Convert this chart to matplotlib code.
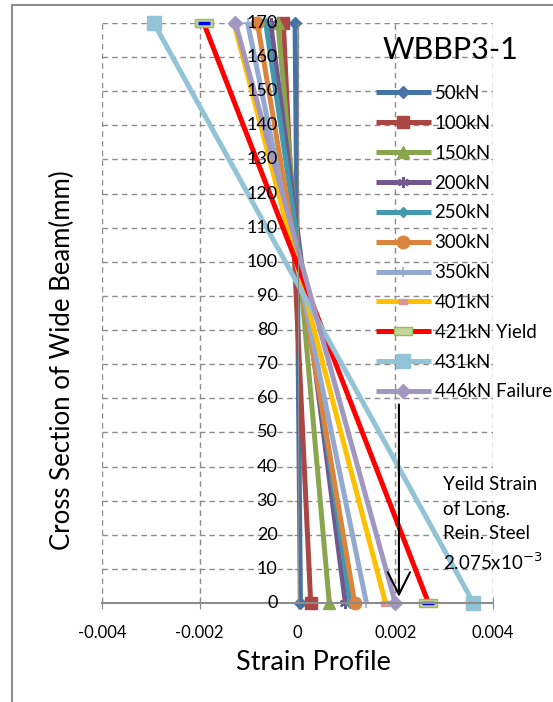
import numpy as np
import matplotlib
matplotlib.use('Agg')
import matplotlib.pyplot as plt
import matplotlib.transforms as mtransforms
from matplotlib.path import Path
from matplotlib.patches import Rectangle

plt.rcParams['font.family'] = ['Lato', 'DejaVu Sans']

# data
loads = ['50kN', '100kN', '150kN', '200kN', '250kN', '300kN',
         '350kN', '401kN', '421kN Yield', '431kN', '446kN Failure']
depth = [0, 170]
strain_bottom = [0.00006, 0.00027, 0.00065, 0.00098, 0.00108, 0.00117,
                 0.00141, 0.0018, 0.00268, 0.0036, 0.0020]
strain_top = [-0.00005, -0.00029, -0.0004, -0.00055, -0.00065, -0.00082,
              -0.00102, -0.0013, -0.00192, -0.00294, -0.00127]
yield_strain = 0.002075
xticks = [-0.004, -0.002, 0, 0.002, 0.004]
xtick_labels = ['-0.004', '-0.002', '0', '0.002', '0.004']
yticks = list(range(0, 171, 10))

colors = ['#4572A7', '#AA4643', '#89A54E', '#71588F', '#4198AF', '#DB843D',
          '#93A9CF', '#FFC000', '#FF0000', '#92C3D6', '#A297C1']

rect = Path([(-1, -0.45), (1, -0.45), (1, 0.45), (-1, 0.45), (-1, -0.45)],
            [Path.MOVETO, Path.LINETO, Path.LINETO, Path.LINETO, Path.CLOSEPOLY])
small_rect = Path([(-1, -0.6), (1, -0.6), (1, 0.6), (-1, 0.6), (-1, -0.6)],
                  [Path.MOVETO, Path.LINETO, Path.LINETO, Path.LINETO, Path.CLOSEPOLY])

styles = [
  dict(marker='D', ms=6),
  dict(marker='s', ms=8),
  dict(marker='^', ms=8),
  dict(marker=(6, 2, 0), ms=8, mew=1.5),
  dict(marker='D', ms=5),
  dict(marker='o', ms=9),
  dict(marker='+', ms=7, mew=1.2),
  dict(marker=small_rect, ms=6, mfc='#D99694', mec='#D99694'),
  dict(marker=rect, ms=13, mfc='#C3D69B', mec='#9BBB59', mew=1),
  dict(marker='s', ms=10),
  dict(marker='D', ms=7),
]

fig = plt.figure(figsize=(5.53, 7.02), dpi=100)
ax = fig.add_axes([102/553, 1-603/702, (493-102)/553, (603-23)/702])

for i in range(len(loads)):
  st = dict(styles[i])
  st.setdefault('mfc', colors[i])
  st.setdefault('mec', colors[i])
  ax.plot([strain_bottom[i], strain_top[i]], depth, color=colors[i], lw=3.6,
          label=loads[i], solid_capstyle='butt', clip_on=False, **st)
  if i == 8:
    ax.plot([strain_bottom[i], strain_top[i]], depth, ls='none', marker='_',
            ms=9, mew=2.5, color='#0000FF', clip_on=False)

ax.set_xlim(-0.004, 0.004)
ax.set_ylim(0, 170)
ax.set_xticks(xticks)
ax.set_xticklabels(xtick_labels)
ax.set_yticks(yticks)
ax.set_yticklabels([])
ax.grid(True, ls=(0, (4, 3)), color='#8C8C8C', lw=1)
ax.set_axisbelow(True)

for s in ['top', 'right']:
  ax.spines[s].set_visible(False)
ax.spines['left'].set_position(('data', 0))
ax.spines['left'].set_color('#8C8C8C')
ax.spines['bottom'].set_color('#8C8C8C')
ax.spines['bottom'].set_linewidth(1.5)
ax.tick_params(axis='x', direction='inout', length=8, color='#8C8C8C',
               labelsize=12, pad=12)
ax.tick_params(axis='y', direction='inout', length=6, color='#8C8C8C')

# y tick labels sit next to the x=0 axis, above the lines
lab_tr = mtransforms.offset_copy(ax.transData, fig=fig, x=-20, y=0, units='dots')
for y in yticks:
  ax.text(0, y, str(y), transform=lab_tr, ha='right', va='center',
          fontsize=13, zorder=6)

fig.text(313/553, 1-662/702, 'Strain Profile', fontsize=19.5,
         ha='center', va='center')
fig.text(62/553, 1-360/702, 'Cross Section of Wide Beam(mm)', fontsize=18.5,
         rotation=90, ha='center', va='center')

ax.annotate('', xy=(yield_strain, 1), xytext=(yield_strain, 59),
            arrowprops=dict(arrowstyle='->', color='k', lw=1.5, mutation_scale=40))
ax.text(0.00297, 37.2, 'Yeild Strain\nof Long.\nRein. Steel\n2.075x10$^{-3}$',
        fontsize=13.5, va='top', ha='left', linespacing=1.53)

fig.text(383/553, 1-50/702, 'WBBP3-1', fontsize=22, ha='left', va='center')

ax.legend(loc='upper left', bbox_to_anchor=(376/553, 1-85/702),
          bbox_transform=fig.transFigure, frameon=False, fontsize=13.4,
          handlelength=2.95, handletextpad=0.2, labelspacing=0.69,
          borderpad=0, borderaxespad=0, numpoints=1)

fig.patches.append(Rectangle((12/553, -0.1), 1.2, 1.1 - 5/702, fill=False,
                             ec='#8C8C8C', lw=1.5, transform=fig.transFigure))

fig.savefig('out.png', dpi=100)
